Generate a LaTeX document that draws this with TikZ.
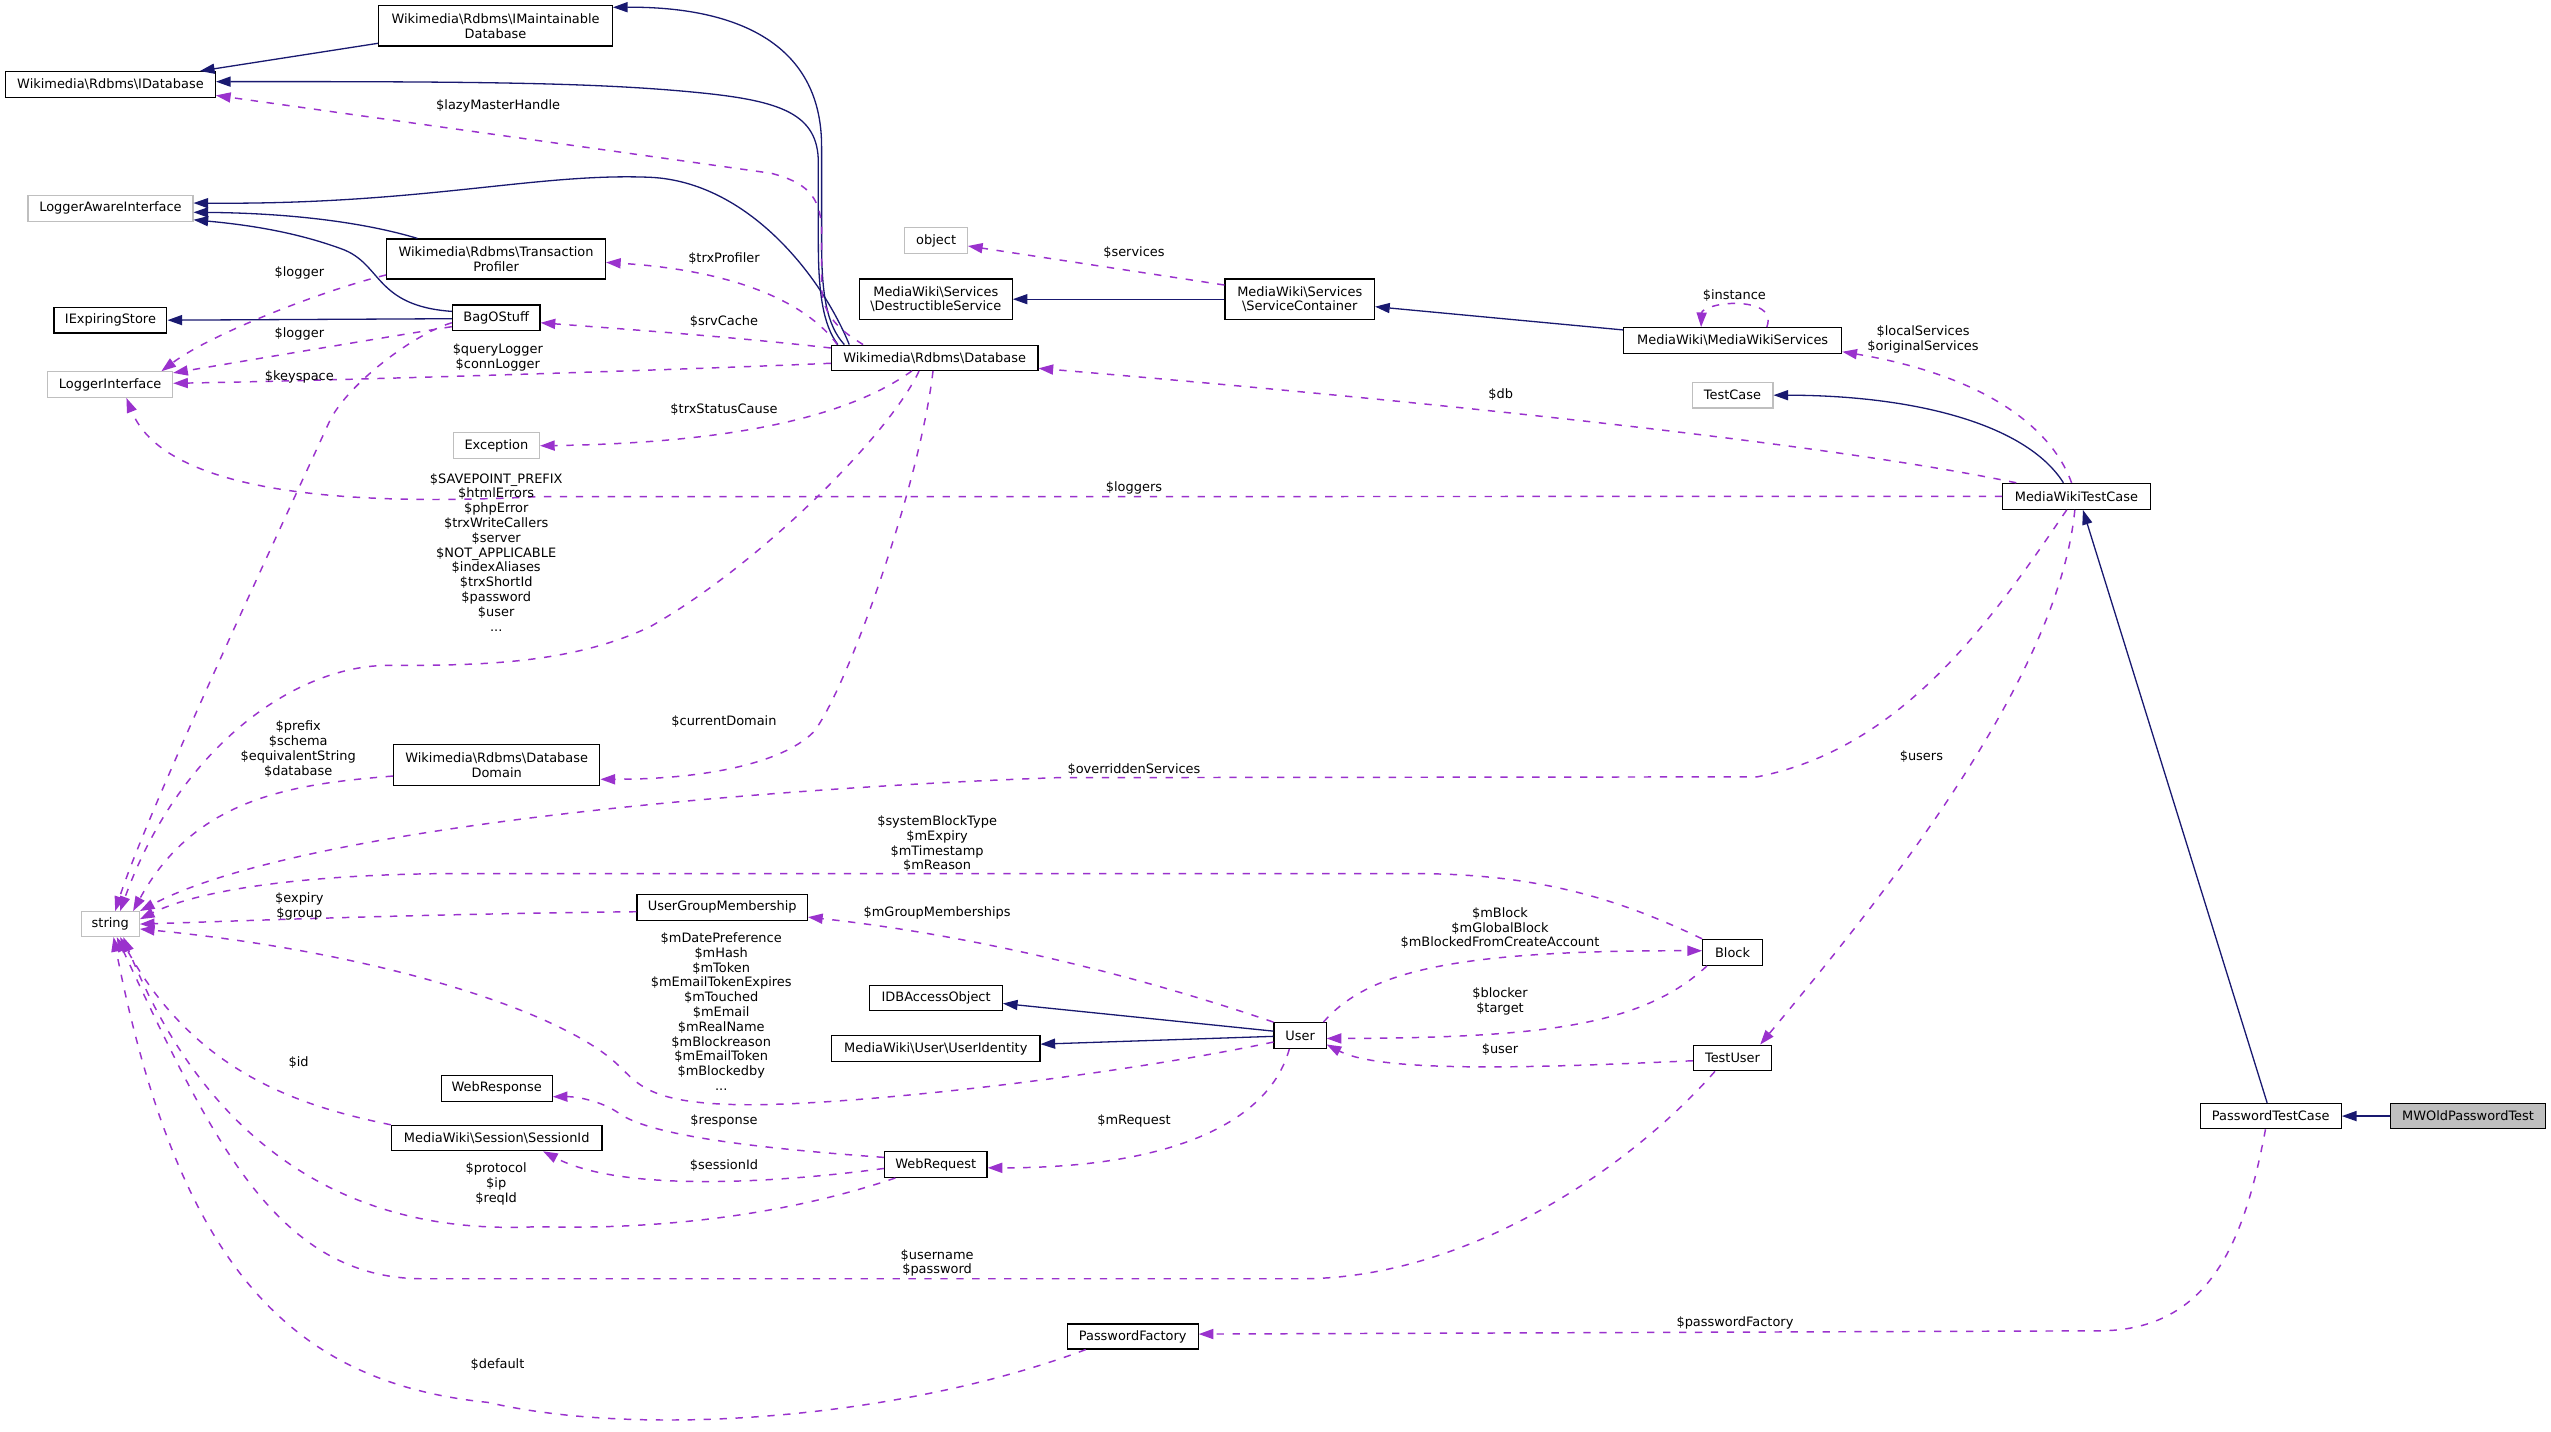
\documentclass[tikz,border=0pt]{standalone}
\usepackage{fontspec}
\setmainfont{DejaVu Sans}
\usetikzlibrary{arrows.meta}
\definecolor{mblue}{RGB}{25,25,112}
\definecolor{dorchid}{RGB}{154,50,205}
\definecolor{gborder}{RGB}{191,191,191}
\newcommand{\lblf}{\fontsize{7.95}{9.1}\selectfont}
\newcommand{\bsl}{\textbackslash}
\tikzset{
  cls/.style={draw=black, line width=0.7pt, fill=white, inner sep=0pt, align=center, font=\lblf},
  gcls/.style={cls, draw=gborder},
  sz/.style 2 args={minimum width=#1pt, minimum height=#2pt},
  inh/.style={draw=mblue, line width=0.8pt, -{Triangle[length=9pt,width=6.2pt]}},
  usg/.style={draw=dorchid, line width=0.9pt, dash pattern=on 4.5pt off 5.3pt, -{Triangle[length=9pt,width=6.2pt]}},
  lbl/.style={inner sep=0pt, align=center, font=\lblf},
}
\begin{document}
\begin{tikzpicture}[x=1pt,y=-1pt]
\useasboundingbox[fill=white] (0,0) rectangle (1568,879.6);
% nodes
\node[cls, sz={143.6}{24.8}] (imaint) at (304.6,15.9) {Wikimedia\bsl Rdbms\bsl IMaintainable\\Database};
\node[cls, sz={129}{15.8}] (idb) at (67.9,51.9) {Wikimedia\bsl Rdbms\bsl IDatabase};
\node[gcls, sz={101.4}{15.6}] (lai) at (67.9,128.1) {LoggerAwareInterface};
\node[cls, sz={134.5}{24.6}] (tp) at (304.9,159.2) {Wikimedia\bsl Rdbms\bsl Transaction\\Profiler};
\node[cls, sz={53.9}{15.8}] (bag) at (305,195.4) {BagOStuff};
\node[cls, sz={69.4}{15.8}] (ies) at (67.9,196.8) {IExpiringStore};
\node[gcls, sz={76.8}{15.7}] (li) at (67.7,236.4) {LoggerInterface};
\node[cls, sz={127}{15.5}] (db) at (574.5,219.9) {Wikimedia\bsl Rdbms\bsl Database};
\node[gcls, sz={38.4}{15.7}] (obj) at (575.4,147.9) {object};
\node[cls, sz={94}{24.8}] (ds) at (575.2,183.9) {MediaWiki\bsl Services\\\bsl DestructibleService};
\node[cls, sz={91.9}{24.8}] (sc) at (798.9,183.9) {MediaWiki\bsl Services\\\bsl ServiceContainer};
\node[cls, sz={134.1}{15.8}] (mws) at (1065,209.3) {MediaWiki\bsl MediaWikiServices};
\node[gcls, sz={49.7}{15.8}] (tc) at (1064.9,242.9) {TestCase};
\node[cls, sz={90.6}{16}] (mwtc) at (1276.3,305.1) {MediaWikiTestCase};
\node[gcls, sz={53}{16}] (exc) at (305.1,274) {Exception};
\node[cls, sz={126.8}{25}] (dd) at (305.3,470.1) {Wikimedia\bsl Rdbms\bsl Database\\Domain};
\node[gcls, sz={35.7}{15.3}] (str) at (67.8,568) {string};
\node[cls, sz={104.8}{15.7}] (ugm) at (443.9,557.7) {UserGroupMembership};
\node[cls, sz={81.4}{15.8}] (idbao) at (575.4,613.4) {IDBAccessObject};
\node[cls, sz={128}{15.8}] (uid) at (575.2,644.5) {MediaWiki\bsl User\bsl UserIdentity};
\node[cls, sz={32}{15.8}] (user) at (799.1,636.5) {User};
\node[cls, sz={36.7}{16}] (block) at (1064.9,585.4) {Block};
\node[cls, sz={48}{15.8}] (tuser) at (1064.9,650.3) {TestUser};
\node[cls, sz={68.3}{15.6}] (wresp) at (305.3,669) {WebResponse};
\node[cls, sz={129.5}{15.6}] (sid) at (305.3,699.5) {MediaWiki\bsl Session\bsl SessionId};
\node[cls, sz={63}{15.8}] (wreq) at (575.2,715.8) {WebRequest};
\node[cls, sz={80.5}{15.4}] (pf) at (696.2,821.5) {PasswordFactory};
\node[cls, sz={86.8}{15.6}] (ptc) at (1395.7,686) {PasswordTestCase};
\node[cls, fill=gborder, sz={95.1}{15.6}] (mwopt) at (1517,686) {MWOldPasswordTest};
% inheritance edges
\draw[inh] ([yshift=-10.7pt]imaint.west) -- ([xshift=55pt]idb.north);
\draw[inh] ([xshift=-55.5pt]db.north) .. controls (508,200) and (505,180) .. (505,150) -- (505,90) .. controls (505,25) and (450,4) .. ([yshift=11.4pt]imaint.east);
\draw[inh] ([xshift=-59.5pt]db.north) .. controls (506,200) and (503,180) .. (503,150) -- (503,100) .. controls (503,70) and (480,62) .. (430,57) .. controls (370,51) and (300,50) .. ([yshift=1.7pt]idb.east);
\draw[inh] ([xshift=-52.5pt]db.north) .. controls (505,170) and (460,112) .. (400,109) .. controls (330,106) and (260,126) .. ([yshift=3.3pt]lai.east);
\draw[inh] ([xshift=-48.3pt]tp.north) .. controls (225,137) and (180,131) .. ([yshift=-2.4pt]lai.east);
\draw[inh] ([yshift=4pt]bag.west) .. controls (230,188) and (235,162) .. (210,153) .. controls (180,142) and (150,138) .. ([yshift=-7pt]lai.east);
\draw[inh] ([yshift=-0.5pt]bag.west) -- (ies.east);
\draw[inh] (sc.west) -- (ds.east);
\draw[inh] ([yshift=6.5pt]mws.west) -- ([yshift=-4.6pt]sc.east);
\draw[inh] ([xshift=-8pt]mwtc.north) .. controls (1245,260) and (1175,243) .. (tc.east);
\draw[inh] ([xshift=-2.2pt]ptc.north) -- ([xshift=4pt]mwtc.south);
\draw[inh] (mwopt.west) -- (ptc.east);
\draw[inh] ([yshift=2.7pt]user.west) -- ([yshift=-3.4pt]idbao.east);
\draw[inh] ([yshift=-0.5pt]user.west) -- ([yshift=2.7pt]uid.east);
% usage edges
\draw[usg] ([xshift=-44pt]db.north) .. controls (518,204) and (505,195) .. (505,175) -- (505,140) .. controls (504,120) and (495,112) .. (474,106.5) -- ([yshift=1.5pt]idb.south east);
\draw[usg] ([xshift=4pt]db.north west) .. controls (495,185) and (450,166) .. ([yshift=-2.1pt]tp.east);
\draw[usg] ([yshift=6pt]db.west) .. controls (450,207) and (380,202) .. ([yshift=-3pt]bag.east);
\draw[usg] ([yshift=-3.4pt]db.west) .. controls (400,228) and (200,234) .. ([yshift=0.8pt]li.east);
\draw[usg] ([yshift=-9.8pt]tp.west) .. controls (200,178) and (130,205) .. ([xshift=31.5pt]li.north);
\draw[usg] ([yshift=-5.4pt]bag.west) .. controls (220,210) and (150,222) .. ([yshift=-1pt]li.north east);
\draw[usg] ([yshift=-3pt]bag.west) .. controls (255,205) and (215,235) .. (203,258) .. controls (170,330) and (90,500) .. ([xshift=3pt]str.north);
\draw[usg] ([xshift=-14pt]db.south) .. controls (530,250) and (470,272) .. (exc.east);
\draw[usg] ([xshift=-9.6pt]db.south) .. controls (548,265) and (470,345) .. (400,385) .. controls (350,409) and (290,409) .. (237,409) .. controls (180,410) and (110,460) .. ([xshift=6pt]str.north);
\draw[usg] ([xshift=-1pt]db.south) .. controls (565,300) and (520,425) .. (500,450) .. controls (480,470) and (430,479) .. ([yshift=-8.9pt]dd.east);
\draw[usg] ([yshift=-6.9pt]dd.west) .. controls (180,482) and (120,490) .. ([xshift=14pt]str.north);
\draw[usg] ([xshift=-6pt]mwtc.south) .. controls (1225,380) and (1170,460) .. (1080,477.5) -- (650,478) .. controls (450,485) and (180,510) .. (str.north east);
\draw[usg] ([xshift=-1pt]mwtc.south) .. controls (1265,420) and (1150,560) .. ([xshift=17pt]tuser.north);
\draw[usg] ([xshift=-3pt]mwtc.north) .. controls (1260,260) and (1215,230) .. ([yshift=-6.9pt]mws.east);
\draw[usg] ([xshift=21pt]mws.north) .. controls (1090,190) and (1078,186.5) .. (1066,186.5) .. controls (1055,186.5) and (1046,190) .. ([xshift=-19.4pt]mws.north);
\draw[usg] ([xshift=-37pt]mwtc.north) .. controls (1100,268) and (800,240) .. ([yshift=-6.5pt]db.east);
\draw[usg] (mwtc.west) -- (330,305.3) .. controls (200,312) and (100,300) .. ([xshift=10pt]li.south);
\draw[usg] ([yshift=8.7pt]sc.west) -- ([yshift=-3.3pt]obj.east);
\draw[usg] (user.north west) .. controls (700,600) and (600,575) .. ([yshift=-6pt]ugm.east);
\draw[usg] ([yshift=-2.7pt]ugm.west) .. controls (250,562) and (150,566) .. (str.east);
\draw[usg] (block.north west) .. controls (1000,555) and (950,537) .. (870,537) -- (270,537) .. controls (180,538) and (120,548) .. ([yshift=3pt]str.east);
\draw[usg] ([xshift=-2pt]user.north east) .. controls (840,598) and (890,584) .. ([yshift=1pt]block.west);
\draw[usg] ([xshift=3pt]block.south west) .. controls (1010,630) and (950,638) .. ([yshift=-1.8pt]user.east);
\draw[usg] ([yshift=-1.7pt]tuser.west) .. controls (950,656) and (850,660) .. ([yshift=-5.5pt]user.east);
\draw[usg] ([yshift=-4pt]user.west) .. controls (680,662) and (520,680) .. (455,679) .. controls (395,678) and (392,665) .. (377,652) .. controls (340,620) and (230,585) .. ([yshift=-3pt]str.east);
\draw[usg] ([xshift=-6.6pt]user.south) .. controls (780,690) and (720,718) .. ([yshift=-2pt]wreq.east);
\draw[usg] ([yshift=4.4pt]wreq.west) .. controls (440,704) and (395,695) .. (380,684) .. controls (370,677) and (355,674) .. ([yshift=-5.1pt]wresp.east);
\draw[usg] ([yshift=-2.4pt]wreq.west) .. controls (470,728) and (380,732) .. ([xshift=28.5pt]sid.south);
\draw[usg] (sid.north west) .. controls (185,680) and (120,660) .. ([xshift=6pt]str.south);
\draw[usg] ([xshift=7pt]wreq.south west) .. controls (480,748) and (400,756) .. (330,754) .. controls (250,758) and (140,735) .. ([xshift=8pt]str.south);
\draw[usg] ([xshift=-10.8pt]tuser.south) .. controls (1000,720) and (900,786) .. (800,786) -- (260,786) .. controls (170,786) and (130,700) .. ([xshift=4pt]str.south);
\draw[usg] ([xshift=11.7pt]pf.south west) .. controls (560,870) and (400,885) .. (300,862) .. controls (180,850) and (110,780) .. ([xshift=2pt]str.south);
\draw[usg] ([xshift=-3.2pt]ptc.south) .. controls (1380,760) and (1360,818) .. (1290,818) -- ([yshift=1.5pt]pf.east);
% labels
\node[lbl] (l1) at (306.2,65.2) {\$lazyMasterHandle};
\node[lbl] (l2) at (445,158.8) {\$trxProfiler};
\node[lbl] (l3) at (445,197.7) {\$srvCache};
\node[lbl] (l4) at (306,219.8) {\$queryLogger\\\$connLogger};
\node[lbl] (l5) at (184,168) {\$logger};
\node[lbl] (l6) at (184,205.5) {\$logger};
\node[lbl] (l7) at (184,231.6) {\$keyspace};
\node[lbl] (l8) at (445,251.6) {\$trxStatusCause};
\node[lbl] (l9) at (305,339.4) {\$SAVEPOINT\_PREFIX\\\$htmlErrors\\\$phpError\\\$trxWriteCallers\\\$server\\\$NOT\_APPLICABLE\\\$indexAliases\\\$trxShortId\\\$password\\\$user\\...};
\node[lbl] (l10) at (445,443.2) {\$currentDomain};
\node[lbl] (l11) at (183.3,460.3) {\$prefix\\\$schema\\\$equivalentString\\\$database};
\node[lbl] (l12) at (697,473.3) {\$overriddenServices};
\node[lbl] (l13) at (1181,465) {\$users};
\node[lbl] (l14) at (1182,208.7) {\$localServices\\\$originalServices};
\node[lbl] (l15) at (1066,181.4) {\$instance};
\node[lbl] (l16) at (922.4,242.8) {\$db};
\node[lbl] (l17) at (697,300) {\$loggers};
\node[lbl] (l18) at (697,155.3) {\$services};
\node[lbl] (l19) at (576,561.4) {\$mGroupMemberships};
\node[lbl] (l20) at (184,557.1) {\$expiry\\\$group};
\node[lbl] (l21) at (576,518.6) {\$systemBlockType\\\$mExpiry\\\$mTimestamp\\\$mReason};
\node[lbl] (l22) at (922,570.5) {\$mBlock\\\$mGlobalBlock\\\$mBlockedFromCreateAccount};
\node[lbl] (l23) at (922,615.4) {\$blocker\\\$target};
\node[lbl] (l24) at (922,644.8) {\$user};
\node[lbl] (l25) at (443.3,621.8) {\$mDatePreference\\\$mHash\\\$mToken\\\$mEmailTokenExpires\\\$mTouched\\\$mEmail\\\$mRealName\\\$mBlockreason\\\$mEmailToken\\\$mBlockedby\\...};
\node[lbl] (l26) at (697,689) {\$mRequest};
\node[lbl] (l27) at (445,689) {\$response};
\node[lbl] (l28) at (445,716.5) {\$sessionId};
\node[lbl] (l29) at (183.5,653.2) {\$id};
\node[lbl] (l30) at (305,727.7) {\$protocol\\\$ip\\\$reqId};
\node[lbl] (l31) at (576,776.3) {\$username\\\$password};
\node[lbl] (l32) at (305.8,839) {\$default};
\node[lbl] (l33) at (1066.4,813.4) {\$passwordFactory};
\end{tikzpicture}
\end{document}
